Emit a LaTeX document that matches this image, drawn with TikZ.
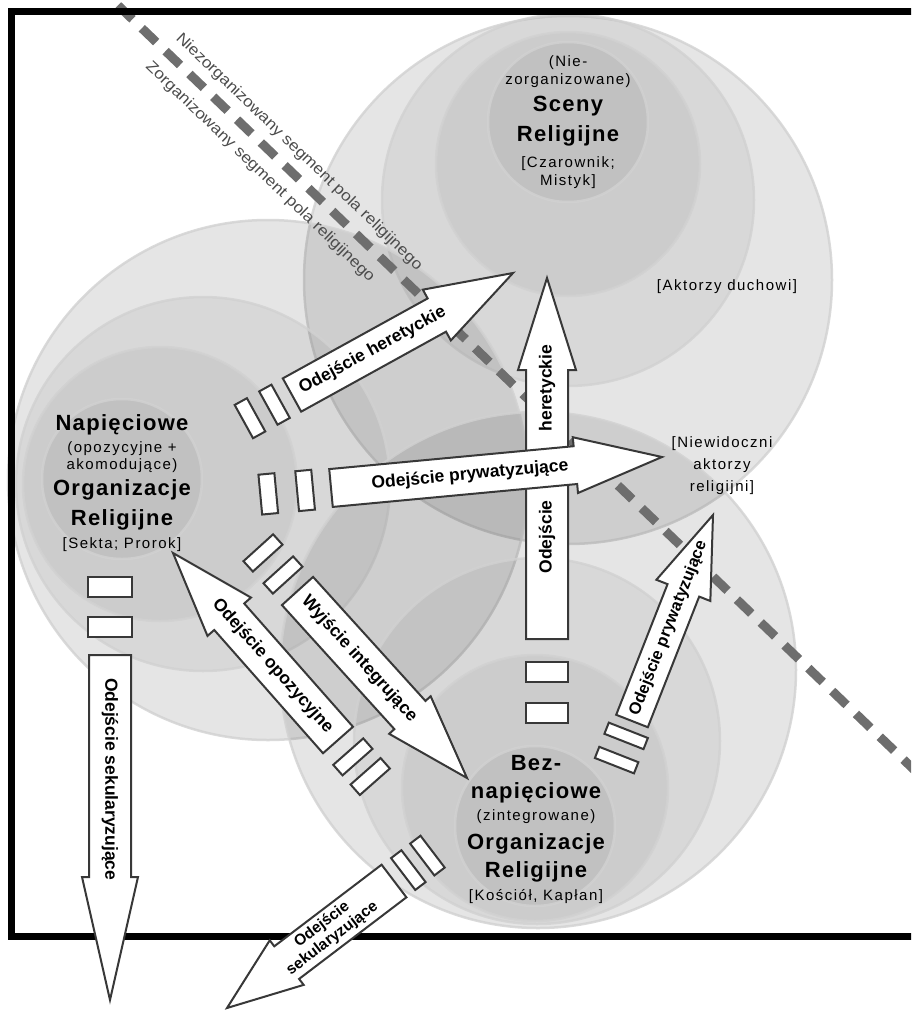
\documentclass[tikz,border=0pt]{standalone}
\usepackage{fontspec}
\setmainfont{Liberation Sans}
\newfontfamily\smallFont[LetterSpace=10]{Liberation Sans}
\newfontfamily\titleFont[LetterSpace=6]{Liberation Sans}
\newfontfamily\fieldFont[FakeStretch=1.12]{Liberation Sans}
\newfontfamily\arrowFont{Liberation Sans}
\usetikzlibrary{calc}
\newcommand{\ringOuter}{0.10}
\newcommand{\ringInner}{0.055}
\newcommand{\frameWidth}{7pt}
% block arrow: tail, tip, body half width, head half width, head length
\newcommand{\blockArrow}[5]{%
  \coordinate (#1k) at ($(#2)!#5!(#1)$);
  \draw[blockarrow] ($(#1)!#3!90:(#2)$) -- ($(#1k)!#3!90:(#2)$) -- ($(#1k)!#4!90:(#2)$)
    -- (#2) -- ($(#1k)!#4!-90:(#2)$) -- ($(#1k)!#3!-90:(#2)$) -- ($(#1)!#3!-90:(#2)$) -- cycle;
}
% two break marks behind the tail: tail, tip, distance 1, distance 2, half thickness, half length
\newcommand{\breakMarks}[6]{%
  \foreach \d in {#3,#4}{
    \coordinate (m) at ($(#1)!-\d!(#2)$);
    \coordinate (mf) at ($(m)!#5!(#2)$);
    \coordinate (mb) at ($(m)!-#5!(#2)$);
    \draw[gapbox] ($(mf)!#6!90:(#2)$) -- ($(mf)!#6!-90:(#2)$) -- ($(mb)!#6!-90:(#2)$) -- ($(mb)!#6!90:(#2)$) -- cycle;
  }
}

\tikzset{
  ring/.style={fill=black, fill opacity=#1, draw=black!18, draw opacity=0.8, line width=2.5pt},
  blockarrow/.style={fill=white, draw=black!78, line width=2pt},
  gapbox/.style={fill=white, draw=black!78, line width=2pt},
  smalltext/.style={font=\smallFont\fontsize{15}{18}\selectfont, anchor=base, inner sep=0pt},
  titletext/.style={font=\titleFont\bfseries\fontsize{22}{26}\selectfont, anchor=base, inner sep=0pt},
  arrowtext/.style={font=\arrowFont\bfseries\fontsize{17.5}{20}\selectfont, inner sep=0pt},
  fieldline/.style={draw=black!57, line width=9pt, dash pattern=on 20pt off 13pt},
  fieldtext/.style={font=\fieldFont\fontsize{15.5}{18}\selectfont, text=black!70, inner sep=0pt, rotate=-43.8}
}

\begin{document}
\begin{tikzpicture}[x=1pt, y=-1pt]
\useasboundingbox (0,0) rectangle (911,1010);
\clip (0,0) rectangle (911,1010);

% top group
\draw[ring=\ringOuter] (568,280) circle[radius=264pt];
\draw[ring=\ringInner] (568,200) circle[radius=186pt];
\draw[ring=\ringInner] (568,164) circle[radius=132pt];
\draw[ring=\ringInner] (568,122) circle[radius=80pt];
% left group
\draw[ring=\ringOuter] (268,480) circle[radius=260pt];
\draw[ring=\ringInner] (203,484) circle[radius=187pt];
\draw[ring=\ringInner] (160,484) circle[radius=137pt];
\draw[ring=\ringInner] (122,479) circle[radius=80pt];
% bottom group
\draw[ring=\ringOuter] (538,670) circle[radius=258pt];
\draw[ring=\ringInner] (537,741) circle[radius=183pt];
\draw[ring=\ringInner] (535,788) circle[radius=133pt];
\draw[ring=\ringInner] (535,826) circle[radius=80pt];

% segment border
\coordinate (fieldA) at (118,5.4);
\coordinate (fieldB) at (930,785);
\draw[fieldline] (fieldA) -- (fieldB);
\node[fieldtext] (nieZorg) at (299,152) {Niezorganizowany segment pola religijnego};
\node[fieldtext] (zorg) at (260,172) {Zorganizowany segment pola religijnego};

\draw[line width=\frameWidth] (11,11) rectangle (990,936);

% group texts
\node[smalltext] (topA) at (568,66) {(Nie-};
\node[smalltext] (topB) at (568,84) {zorganizowane)};
\node[titletext] (topC) at (568,111) {Sceny};
\node[titletext] (topD) at (568,141) {Religijne};
\node[smalltext] (topE) at (568,167) {[Czarownik;};
\node[smalltext] (topF) at (568,185) {Mistyk]};

\node[titletext] (leftA) at (122,430) {Napięciowe};
\node[smalltext] (leftB) at (122,452) {(opozycyjne +};
\node[smalltext] (leftC) at (122,469) {akomodujące)};
\node[titletext] (leftD) at (122,495) {Organizacje};
\node[titletext] (leftE) at (122,525) {Religijne};
\node[smalltext] (leftF) at (122,548) {[Sekta; Prorok]};

\node[titletext] (botA) at (536,770) {Bez-};
\node[titletext] (botB) at (536,798) {napięciowe};
\node[smalltext] (botC) at (536,820) {(zintegrowane)};
\node[titletext] (botD) at (536,849) {Organizacje};
\node[titletext] (botE) at (536,877) {Religijne};
\node[smalltext] (botF) at (536,900) {[Kościół, Kapłan]};

\node[smalltext] (spirit) at (727,290) {[Aktorzy duchowi]};
\node[smalltext] (invisA) at (722,447) {[Niewidoczni};
\node[smalltext] (invisB) at (722,469) {aktorzy};
\node[smalltext] (invisC) at (722,491) {religijni]};

% vertical heretical exit
\coordinate (hetT) at (547,639);
\coordinate (hetH) at (547,278);
\blockArrow{hetT}{hetH}{21pt}{29pt}{92pt}
\breakMarks{hetT}{hetH}{33pt}{74pt}{10pt}{21pt}
\node[arrowtext, rotate=90] (hetLblA) at ($(hetT)!0.283!(hetH)$) {Odejście};
\node[arrowtext, rotate=90] (hetLblB) at ($(hetT)!0.695!(hetH)$) {heretyckie};

% heretical exit from tension organizations
\coordinate (hereT) at (292,395);
\coordinate (hereH) at (513,273);
\blockArrow{hereT}{hereH}{19pt}{29pt}{87pt}
\breakMarks{hereT}{hereH}{20pt}{48pt}{7pt}{19pt}
\node[arrowtext, rotate=28.6] (hereLbl) at ($(hereT)!0.365!(hereH)$) {Odejście heretyckie};

% privatizing exit
\coordinate (privT) at (331,488);
\coordinate (privH) at (662,457);
\blockArrow{privT}{privH}{19pt}{28pt}{87pt}
\breakMarks{privT}{privH}{26pt}{63pt}{8pt}{20pt}
\node[arrowtext, rotate=5.4] (privLbl) at ($(privT)!0.42!(privH)$) {Odejście prywatyzujące};

% small privatizing exit
\coordinate (privbT) at (632,721);
\coordinate (privbH) at (713,515);
\blockArrow{privbT}{privbH}{17pt}{29pt}{81pt}
\breakMarks{privbT}{privbH}{16pt}{42pt}{6pt}{21pt}
\node[arrowtext, font=\arrowFont\bfseries\fontsize{16.5}{19}\selectfont, rotate=68.5] (privbLbl) at ($(privbT)!0.45!(privbH)$) {Odejście prywatyzujące};

% integrating exit
\coordinate (integT) at (297.5,591);
\coordinate (integH) at (467,778);
\blockArrow{integT}{integH}{21pt}{28pt}{85pt}
\breakMarks{integT}{integH}{21.6pt}{51.4pt}{7pt}{20pt}
\node[arrowtext, rotate=-47.8] (integLbl) at ($(integT)!0.364!(integH)$) {Wyjście integrujące};

% oppositional exit
\coordinate (oppT) at (338,740);
\coordinate (oppH) at (173,553);
\blockArrow{oppT}{oppH}{20pt}{29pt}{85pt}
\breakMarks{oppT}{oppH}{22.5pt}{48.7pt}{7pt}{20pt}
\node[arrowtext, rotate=-48.6] (oppLbl) at ($(oppT)!0.396!(oppH)$) {Odejście opozycyjne};

% secularizing exit, left
\coordinate (secT) at (110,655);
\coordinate (secH) at (110,1000);
\blockArrow{secT}{secH}{21pt}{28pt}{123pt}
\breakMarks{secT}{secH}{28.5pt}{68pt}{10pt}{22pt}
\node[arrowtext, rotate=-90] (secLbl) at ($(secT)!0.36!(secH)$) {Odejście sekularyzujące};

% secularizing exit, bottom
\coordinate (secbT) at (394,881);
\coordinate (secbH) at (227,1008);
\blockArrow{secbT}{secbH}{20.5pt}{28pt}{75pt}
\breakMarks{secbT}{secbH}{18pt}{42pt}{6.5pt}{20pt}
\node[arrowtext, font=\arrowFont\bfseries\fontsize{15.5}{17}\selectfont, align=center, rotate=37.3] (secbLbl) at ($(secbT)!0.4!(secbH)$) {Odejście\\sekularyzujące};
\end{tikzpicture}
\end{document}
